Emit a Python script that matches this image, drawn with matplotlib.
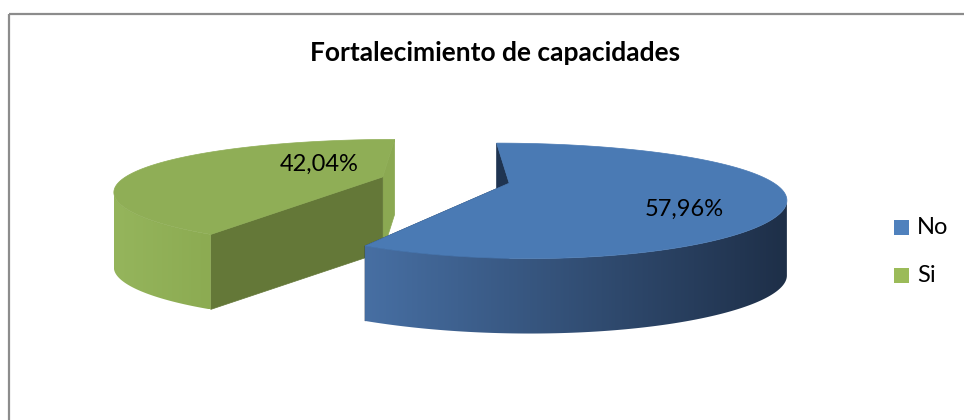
import numpy as np
import matplotlib
matplotlib.use("Agg")
import matplotlib.pyplot as plt
from matplotlib.patches import Polygon
from matplotlib.colors import to_rgb

# ---- data ----
title = "Fortalecimiento de capacidades"
categories = ["No", "Si"]
values = [57.96, 42.04]
labels = ["57,96%", "42,04%"]

# ---- styles ----
top_colors = ["#4A7AB4", "#8FAE56"]
wall_left = ["#476FA3", "#95B55C"]
wall_right = ["#1E2F48", "#8CAB52"]
start_face = ["#1F3451", "#647838"]   # radial face at slice start angle
end_face = ["#1F3451", "#8BA952"]     # radial face at slice end angle
legend_colors = ["#4F81BD", "#9BBB59"]

# projection parameters (pixel space)
cx, cy_top = 445.0, 180.0
A, B = 261.0, 50.4
kx, ky = 0.24, 0.30
depth = 75.0
explode = 0.25

fig = plt.figure(figsize=(9.64, 4.2), dpi=100)
ax = fig.add_axes([0, 0, 1, 1])
ax.axis("off")


def proj(X, Y, top=True):
    X = np.asarray(X, float)
    Y = np.asarray(Y, float)
    sx = 1.0 / (1.0 + kx * Y)
    sy = 1.0 / (1.0 + ky * Y)
    px = cx + A * X * sx
    py = cy_top - B * Y * sy + (0.0 if top else depth)
    return px, py


total = sum(values)
angles = np.cumsum([0] + [v / total * 360.0 for v in values])

# draw slices from back (Si) to front (No)
order = [1, 0]
for i in order:
    a0, a1 = np.radians(angles[i]), np.radians(angles[i + 1])
    mid = 0.5 * (a0 + a1)
    ex, ey = explode * np.sin(mid), explode * np.cos(mid)
    t = np.linspace(a0, a1, 400)
    Xa, Ya = ex + np.sin(t), ey + np.cos(t)
    tx, ty = proj(Xa, Ya, True)
    bx, by = proj(Xa, Ya, False)
    apx_t = proj(ex, ey, True)
    apx_b = proj(ex, ey, False)

    # radial face at end angle
    et = proj(Xa[-1], Ya[-1], True)
    eb = proj(Xa[-1], Ya[-1], False)
    ax.add_patch(Polygon([apx_t, et, eb, apx_b], closed=True,
                         facecolor=end_face[i], edgecolor=end_face[i], lw=0.5))
    # radial face at start angle
    st = proj(Xa[0], Ya[0], True)
    sb = proj(Xa[0], Ya[0], False)
    ax.add_patch(Polygon([apx_t, st, sb, apx_b], closed=True,
                         facecolor=start_face[i], edgecolor=start_face[i], lw=0.5))

    # silhouette angles of the full cylinder around this slice's centre
    full = np.linspace(0, 2 * np.pi, 7200)
    pxf, _ = proj(ex + np.sin(full), ey + np.cos(full))
    a_right, a_left = full[np.argmax(pxf)], full[np.argmin(pxf)]
    vis = (t >= a_right) & (t <= a_left)
    idx = np.where(vis)[0]
    if len(idx) > 1:
        wx = np.concatenate([tx[idx], bx[idx][::-1]])
        wy = np.concatenate([ty[idx], by[idx][::-1]])
        wall = Polygon(np.column_stack([wx, wy]), closed=True,
                       facecolor="none", edgecolor="none")
        ax.add_patch(wall)
        xmin, xmax = wx.min(), wx.max()
        ymin, ymax = wy.min(), wy.max()
        n = 256
        c1 = np.array(to_rgb(wall_left[i]))
        c2 = np.array(to_rgb(wall_right[i]))
        grad = (c1[None, :] + (c2 - c1)[None, :] * np.linspace(0, 1, n)[:, None])[None, :, :]
        im = ax.imshow(grad, extent=(xmin, xmax, ymax, ymin), aspect="auto",
                       interpolation="bilinear", zorder=1)
        im.set_clip_path(wall)

    # top face
    pts = [apx_t] + list(zip(tx, ty))
    ax.add_patch(Polygon(pts, closed=True, facecolor=top_colors[i],
                         edgecolor=top_colors[i], lw=0.5, zorder=1.5))

# data labels (layout positions)
label_pos = [(684, 209), (319, 164)]
for lab, (x, y) in zip(labels, label_pos):
    ax.text(x, y, lab, ha="center", va="center", fontsize=17,
            family=["Lato", "DejaVu Sans"], color="#000000", zorder=5)

# title
ax.text(495, 53, title, ha="center", va="center", fontsize=19,
        fontweight="bold", family=["Lato", "DejaVu Sans"], color="#000000")

# legend
leg_y = [227, 275]
for cat, col, y in zip(categories, legend_colors, leg_y):
    ax.add_patch(Polygon([(894, y - 7.5), (909, y - 7.5), (909, y + 7.5), (894, y + 7.5)],
                         closed=True, facecolor=col, edgecolor="none"))
    ax.text(917, y, cat, ha="left", va="center", fontsize=17,
            family=["Lato", "DejaVu Sans"], color="#000000")

# chart border (top and left visible)
ax.plot([8.5, 964], [13.5, 13.5], color="#8C8C8C", lw=1.6, solid_capstyle="butt")
ax.plot([8.5, 8.5], [13.5, 420], color="#8C8C8C", lw=1.6, solid_capstyle="butt")

ax.set_xlim(0, 964)
ax.set_ylim(420, 0)

fig.savefig("out.png", dpi=100, facecolor="white")
